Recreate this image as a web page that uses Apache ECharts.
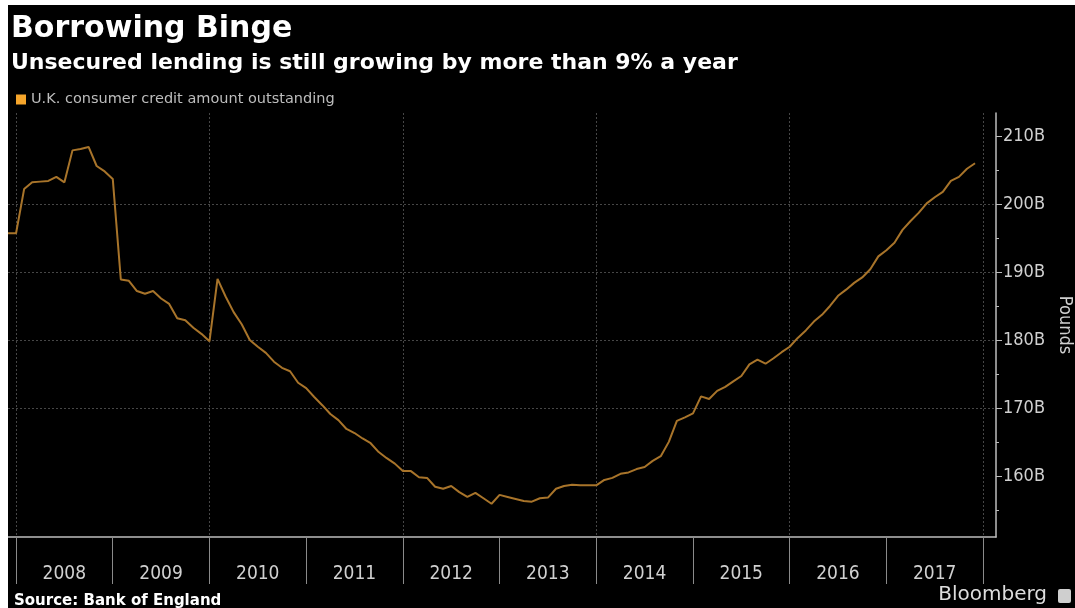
<!DOCTYPE html>
<html>
<head>
<meta charset="utf-8">
<script src="https://cdn.jsdelivr.net/npm/echarts@6/dist/echarts.min.js"></script>
<style>
  html, body { margin: 0; padding: 0; background: #ffffff; }
  #chart { width: 1075px; height: 608px; }
</style>
</head>
<body>
<div id="chart"></div>
<script>
// ---- Data (UK consumer credit amount outstanding, billions of pounds, monthly) ----
const firstMonth = '2007-12';
const creditValues = [
  195.7,
  195.7, 202.2, 203.2, 203.3, 203.4, 204.0, 203.2, 207.9, 208.1, 208.4, 205.6, 204.8,
  203.7, 188.9, 188.7, 187.2, 186.8, 187.2, 186.1, 185.3, 183.2, 182.9, 181.8, 180.9,
  179.8, 189.0, 186.4, 184.1, 182.3, 180.0, 179.0, 178.1, 176.8, 175.9, 175.4, 173.7,
  172.9, 171.6, 170.4, 169.1, 168.2, 166.9, 166.3, 165.5, 164.8, 163.5, 162.6, 161.8,
  160.7, 160.7, 159.8, 159.7, 158.4, 158.1, 158.5, 157.6, 156.9, 157.5, 156.7, 155.9,
  157.2, 156.9, 156.6, 156.3, 156.2, 156.7, 156.8, 158.1, 158.5, 158.7, 158.6, 158.6,
  158.6, 159.4, 159.7, 160.3, 160.5, 161.0, 161.3, 162.2, 162.9, 165.0, 168.1, 168.6,
  169.2, 171.7, 171.3, 172.5, 173.1, 173.9, 174.7, 176.4, 177.1, 176.5, 177.3, 178.2,
  179.0, 180.3, 181.4, 182.7, 183.7, 185.0, 186.5, 187.4, 188.4, 189.2, 190.4, 192.3,
  193.2, 194.3, 196.2, 197.5, 198.7, 200.1, 201.0, 201.8, 203.4, 204.0, 205.2, 206.0
];
const years = ['2008', '2009', '2010', '2011', '2012', '2013', '2014', '2015', '2016', '2017'];
const yMajorTicks = [160, 170, 180, 190, 200, 210];
const yMinorTicks = [155, 165, 175, 185, 195, 205];
const seriesName = 'U.K. consumer credit amount outstanding';

// months since Jan of first year label
const baseYear = Number(years[0]);
const [fy, fm] = firstMonth.split('-').map(Number);
const startIndex = (fy - baseYear) * 12 + (fm - 1);
const seriesData = creditValues.map((v, i) => [startIndex + i, v]);

const Y_MIN = 151, Y_MAX = 213.4;
const X_MIN = -1, X_MAX = 121.6;
const GRID_TOP = 113, GRID_BOTTOM = 71;

const axisGray = '#bdbdbd';
const labelGray = '#d0d0d0';
const gridGray = '#464646';

const chart = echarts.init(document.getElementById('chart'), null, { renderer: 'canvas' });
chart.setOption({
  animation: false,
  backgroundColor: '#000000',
  title: [
    { text: 'Borrowing Binge', left: 6, top: 9,
      textStyle: { color: '#ffffff', fontSize: 30, fontWeight: 'bold', fontFamily: 'DejaVu Sans' } },
    { text: 'Unsecured lending is still growing by more than 9% a year', left: 6, top: 47,
      textStyle: { color: '#ffffff', fontSize: 22, fontWeight: 'bold', fontFamily: 'DejaVu Sans' } },
    { text: 'Source: Bank of England', left: 9, top: 589,
      textStyle: { color: '#ffffff', fontSize: 15, fontWeight: 'bold', fontFamily: 'DejaVu Sans' } }
  ],
  legend: {
    left: 11, top: 87,
    itemWidth: 10, itemHeight: 10, icon: 'rect',
    textStyle: { color: '#bdbdbd', fontSize: 14.5, fontFamily: 'DejaVu Sans' },
    data: [seriesName]
  },
  grid: [
    { left: 8, right: 79, top: GRID_TOP, bottom: GRID_BOTTOM, outerBoundsMode: 'none', containLabel: false },
    { left: 16, right: 92, top: GRID_TOP, bottom: GRID_BOTTOM, outerBoundsMode: 'none', containLabel: false },
    { left: 8, right: 79, top: GRID_TOP, bottom: GRID_BOTTOM, outerBoundsMode: 'none', containLabel: false }
  ],
  xAxis: [
    { type: 'value', gridIndex: 0, min: X_MIN, max: X_MAX,
      axisLine: { show: true, onZero: false, lineStyle: { color: axisGray, width: 1.5 } },
      axisTick: { show: false }, axisLabel: { show: false }, splitLine: { show: false } },
    { type: 'category', gridIndex: 1, data: years, boundaryGap: true, position: 'bottom',
      axisLine: { show: false, onZero: false },
      axisTick: { show: true, length: 47, lineStyle: { color: '#8a8a8a', width: 1 } },
      axisLabel: { color: labelGray, fontSize: 19, fontFamily: 'DejaVu Sans Condensed', margin: 28 },
      splitLine: { show: true, interval: 1, lineStyle: { color: gridGray, type: [2, 2], width: 1 } } },
    { type: 'value', gridIndex: 2, min: X_MIN, max: X_MAX, show: false }
  ],
  yAxis: [
    { type: 'value', gridIndex: 0, position: 'right', min: Y_MIN, max: Y_MAX,
      name: 'Pounds', nameLocation: 'middle', nameGap: 58, nameRotate: -90,
      nameTextStyle: { color: labelGray, fontSize: 18, fontFamily: 'DejaVu Sans Condensed' },
      axisLine: { show: true, onZero: false, lineStyle: { color: axisGray, width: 1.5 } },
      axisTick: { show: true, customValues: yMajorTicks, length: 6, lineStyle: { color: axisGray } },
      axisLabel: { customValues: yMajorTicks, formatter: v => v + 'B', color: labelGray,
        fontSize: 18, fontFamily: 'DejaVu Sans Condensed', margin: 7 },
      splitLine: { show: true, showMinLine: false, showMaxLine: false,
        lineStyle: { color: gridGray, type: [2, 2], width: 1 } } },
    { type: 'value', gridIndex: 1, min: Y_MIN, max: Y_MAX, show: false },
    { type: 'value', gridIndex: 2, position: 'right', min: Y_MIN, max: Y_MAX,
      axisLine: { show: false, onZero: false },
      axisTick: { show: true, customValues: yMinorTicks, length: 3, lineStyle: { color: axisGray } },
      axisLabel: { show: false }, splitLine: { show: false } }
  ],
  series: [
    { name: seriesName, type: 'line', xAxisIndex: 0, yAxisIndex: 0,
      data: seriesData, showSymbol: false, symbol: 'none',
      itemStyle: { color: '#f5a52b' },
      lineStyle: { color: '#a8742a', width: 2 } }
  ],
  graphic: [
    { type: 'text', right: 28, top: 585,
      style: { text: 'Bloomberg', fill: '#dddddd', fontSize: 20, fontFamily: 'DejaVu Sans' } },
    { type: 'rect', left: 1058, top: 589, shape: { width: 13, height: 14, r: 2 },
      style: { fill: '#cfcfcf' } },
    { type: 'rect', left: 0, top: 0, z: 100, shape: { width: 8, height: 608 }, style: { fill: '#ffffff' } },
    { type: 'rect', left: 0, top: 0, z: 100, shape: { width: 1075, height: 5 }, style: { fill: '#ffffff' } }
  ]
});
</script>
</body>
</html>
